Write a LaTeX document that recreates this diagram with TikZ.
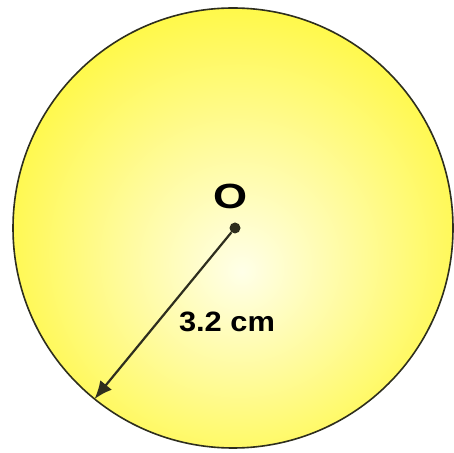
\documentclass[tikz,border=0pt]{standalone}
\usepackage{fontspec}
\usepackage{tikz}
\usetikzlibrary{positioning, arrows.meta, calc}
\newfontfamily\diagfont{Liberation Sans}[FakeStretch=1.1]
\newfontfamily\widefont{Liberation Sans}[FakeStretch=1.25]
\definecolor{discRim}{HTML}{FFF83A}
\definecolor{discMid}{HTML}{FFFB9E}
\definecolor{discCore}{HTML}{FFFFE8}
\definecolor{inkLine}{HTML}{2E2E1E}
\pgfdeclareradialshading{discfill}{\pgfpoint{1bp}{-5bp}}{color(0bp)=(discCore); color(13bp)=(discMid); color(30bp)=(discRim); color(50bp)=(discRim)}

\begin{document}
\begin{tikzpicture}[
    x=1pt, y=1pt,
    disc/.style={circle, draw=inkLine, line width=1.6pt, inner sep=0pt, outer sep=0pt, minimum size=440pt, shading=discfill},
    centre_dot/.style={circle, fill=inkLine, inner sep=0pt, minimum size=11pt},
    lbl/.style={font=\diagfont\bfseries\fontsize{28}{32}\selectfont, text=black}
]
\useasboundingbox (0,0) rectangle (454,452);
\node[disc] (disc) at (233,224) {};
\node[centre_dot] (O) at (235,224) {};
\node[lbl, font=\widefont\bfseries\fontsize{35}{38}\selectfont] (Olbl) at (231,256) {O};
\node[lbl] (rlbl) at (227,130) {3.2 cm};
\draw[inkLine, line width=2.2pt, -{Latex[length=18pt, width=15pt]}] (O) -- (disc.231.9);
\end{tikzpicture}
\end{document}
